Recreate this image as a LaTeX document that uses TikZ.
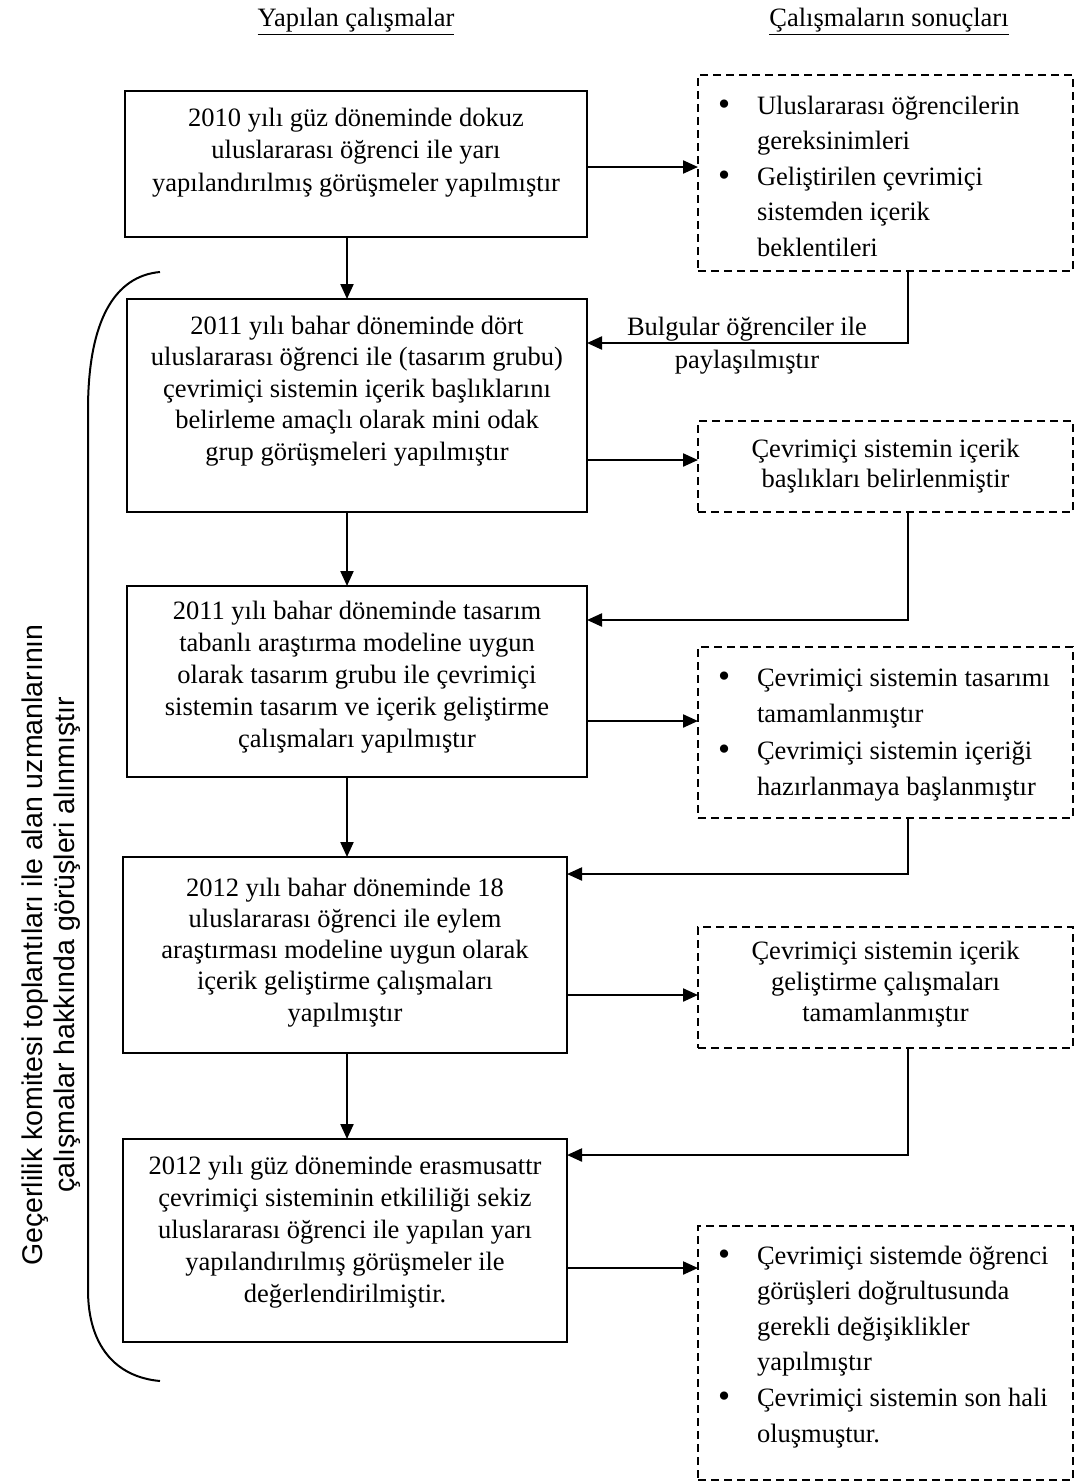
\documentclass[tikz,border=0pt]{standalone}
\usepackage{fontspec}
\setmainfont{Liberation Serif}
\newfontfamily\lsans{Liberation Sans}
\usetikzlibrary{arrows.meta}
\newcommand\bxt[5]{\parbox[c][#2][t]{#1}{\fontsize{26.5pt}{#4}\selectfont\centering\rule{0pt}{#3}#5}}
\newcommand\lst[5]{\parbox[c][#2][t]{#1}{\fontsize{26.5pt}{#4}\selectfont\raggedright\rule{0pt}{#3}#5}}
\newcommand\itm{\hspace*{20pt}\makebox[39pt][l]{\raisebox{-1.5pt}{\scalebox{1.3}{•}}}}
\newcommand\cnt{\hspace*{59pt}}
\begin{document}
\begin{tikzpicture}[x=1pt,y=-1pt,
  sbox/.style={draw, line width=2pt, inner sep=0pt, outer sep=0pt},
  dbox/.style={draw, line width=2pt, dash pattern=on 8pt off 5pt, inner sep=0pt, outer sep=0pt},
  arr/.style={line width=2.2pt, -{Triangle[length=15pt,width=13pt]}},
  txt/.style={font=\fontsize{26.5pt}{33pt}\selectfont, align=center, inner sep=0pt}]
\useasboundingbox (0,0) rectangle (1076,1483);

% headers
\node[txt, anchor=base] (h1) at (356,27) {\underline{Yapılan çalışmalar}};
\node[txt, anchor=base] (h2) at (889,27) {\underline{Çalışmaların sonuçları}};

% left boxes
\node[sbox] (b1) at (356,164) {\bxt{462pt}{146pt}{35pt}{32.5pt}{2010 yılı güz döneminde dokuz\\ uluslararası öğrenci ile yarı\\ yapılandırılmış görüşmeler yapılmıştır}};
\node[sbox] (b2) at (357,405.5) {\bxt{460pt}{213pt}{35pt}{31.5pt}{2011 yılı bahar döneminde dört\\ uluslararası öğrenci ile (tasarım grubu)\\ çevrimiçi sistemin içerik başlıklarını\\ belirleme amaçlı olarak mini odak\\ grup görüşmeleri yapılmıştır}};
\node[sbox] (b3) at (357,681.5) {\bxt{460pt}{191pt}{33pt}{32pt}{2011 yılı bahar döneminde tasarım\\ tabanlı araştırma modeline uygun\\ olarak tasarım grubu ile çevrimiçi\\ sistemin tasarım ve içerik geliştirme\\ çalışmaları yapılmıştır}};
\node[sbox] (b4) at (345,955) {\bxt{444pt}{196pt}{39pt}{31.3pt}{2012 yılı bahar döneminde 18\\ uluslararası öğrenci ile eylem\\ araştırması modeline uygun olarak\\ içerik geliştirme çalışmaları\\ yapılmıştır}};
\node[sbox] (b5) at (345,1240.5) {\bxt{444pt}{203pt}{35pt}{32pt}{2012 yılı güz döneminde erasmusattr\\ çevrimiçi sisteminin etkililiği sekiz\\ uluslararası öğrenci ile yapılan yarı\\ yapılandırılmış görüşmeler ile\\ değerlendirilmiştir.}};

% right dashed boxes
\node[dbox] (d1) at (885.5,173) {\lst{375pt}{196pt}{39pt}{35.5pt}{\itm Uluslararası öğrencilerin\\ \cnt gereksinimleri\\ \itm Geliştirilen çevrimiçi\\ \cnt sistemden içerik\\ \cnt beklentileri}};
\node[dbox] (d2) at (885.5,466.5) {\bxt{375pt}{91pt}{36pt}{30pt}{Çevrimiçi sistemin içerik\\ başlıkları belirlenmiştir}};
\node[dbox] (d3) at (885.5,732.5) {\lst{375pt}{171pt}{39pt}{36.5pt}{\itm Çevrimiçi sistemin tasarımı\\ \cnt tamamlanmıştır\\ \itm Çevrimiçi sistemin içeriği\\ \cnt hazırlanmaya başlanmıştır}};
\node[dbox] (d4) at (885.5,987.5) {\bxt{375pt}{121pt}{32pt}{31pt}{Çevrimiçi sistemin içerik\\ geliştirme çalışmaları\\ tamamlanmıştır}};
\node[dbox] (d5) at (885.5,1353) {\lst{375pt}{254pt}{38pt}{35.6pt}{\itm Çevrimiçi sistemde öğrenci\\ \cnt görüşleri doğrultusunda\\ \cnt gerekli değişiklikler\\ \cnt yapılmıştır\\ \itm Çevrimiçi sistemin son hali\\ \cnt oluşmuştur.}};

% connectors
\draw[arr] (b1.east |- 0,167) -- (d1.west |- 0,167);
\draw[arr] (347,0 |- b1.south) -- (347,0 |- b2.north);
\draw[arr] (d1.south -| 908,0) -- (908,343) -- (b2.east |- 0,343);
\node[txt] (lbl) at (747,346) {Bulgular öğrenciler ile\\ paylaşılmıştır};
\draw[arr] (b2.east |- 0,460) -- (d2.west |- 0,460);
\draw[arr] (347,0 |- b2.south) -- (347,0 |- b3.north);
\draw[arr] (d2.south -| 908,0) -- (908,620) -- (b3.east |- 0,620);
\draw[arr] (b3.east |- 0,721) -- (d3.west |- 0,721);
\draw[arr] (347,0 |- b3.south) -- (347,0 |- b4.north);
\draw[arr] (d3.south -| 908,0) -- (908,874) -- (b4.east |- 0,874);
\draw[arr] (b4.east |- 0,995) -- (d4.west |- 0,995);
\draw[arr] (347,0 |- b4.south) -- (347,0 |- b5.north);
\draw[arr] (d4.south -| 908,0) -- (908,1155) -- (b5.east |- 0,1155);
\draw[arr] (b5.east |- 0,1268) -- (d5.west |- 0,1268);

% bracket
\draw[line width=2pt] (160,272) .. controls (115,276) and (88,320) .. (88,410) -- (88,1290) .. controls (88,1345) and (115,1377) .. (160,1381);

% side label
\node[rotate=90, align=center, inner sep=0pt, font=\lsans\fontsize{28.5pt}{32pt}\selectfont] (side) at (51,945) {Geçerlilik komitesi toplantıları ile alan uzmanlarının\\ çalışmalar hakkında görüşleri alınmıştır};
\end{tikzpicture}
\end{document}
